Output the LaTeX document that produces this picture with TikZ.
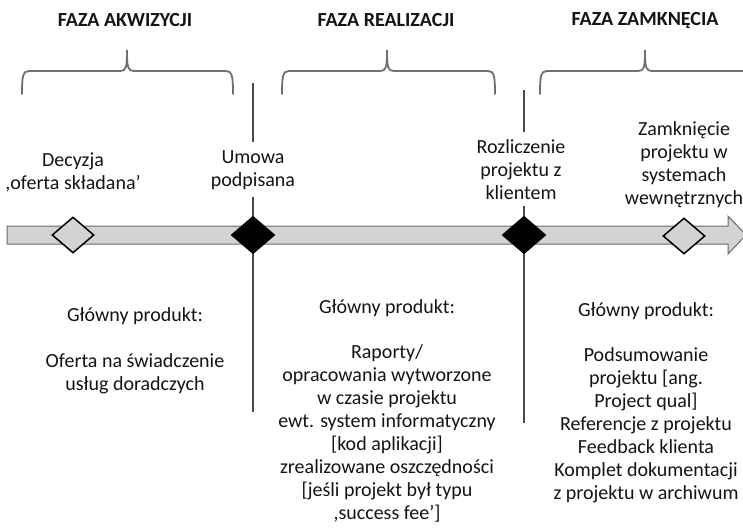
\documentclass[tikz,border=0pt]{standalone}
\usepackage{fontspec}
\setmainfont{Carlito}
\usetikzlibrary{shapes.geometric}

\definecolor{barfill}{HTML}{D3D3D3}
\definecolor{baredge}{HTML}{6A6A6A}
\definecolor{bracegray}{HTML}{707070}
\definecolor{rulegray}{HTML}{4A4A4A}
\definecolor{ink}{HTML}{141414}

\tikzset{
  phasetitle/.style={font=\bfseries\fontsize{20}{24}\selectfont, text=ink, inner sep=0pt},
  textblock/.style={font=\fontsize{20}{23}\selectfont, text=ink, align=center, inner sep=0pt},
  milestone/.style={diamond, draw=black, line width=1.5pt, inner sep=0pt,
                    minimum width=43pt, minimum height=37pt},
  openstone/.style={milestone, fill=barfill, minimum width=42pt, minimum height=36pt},
  closedstone/.style={milestone, fill=black},
  bracestroke/.style={draw=bracegray, line width=1.8pt, line cap=round},
  divider/.style={draw=rulegray, line width=1.3pt},
  timebar/.style={fill=barfill, draw=baredge, line width=1pt, line join=miter}
}

% curly brace over a phase: left end, tip, right end (x positions)
\newcommand\phasebrace[3]{%
  \draw[bracestroke] (#1,94) .. controls (#1,76) and (#1+1,71) .. (#1+7,71)
    -- (#2-7,71) .. controls (#2-1,71) and (#2,68) .. (#2,50)
    .. controls (#2,68) and (#2+1,71) .. (#2+7,71)
    -- (#3-7,71) .. controls (#3-1,71) and (#3,76) .. (#3,94);}

\begin{document}
\begin{tikzpicture}[x=1pt,y=-1pt]
  \clip (0,0) rectangle (743,527);
  \fill[white] (0,0) rectangle (743,527);

  % phase titles
  \node[phasetitle] (tAcq) at (125,20) {FAZA AKWIZYCJI};
  \node[phasetitle] (tReal) at (386,20) {FAZA REALIZACJI};
  \node[phasetitle] (tClose) at (645,21) {FAZA ZAMKNĘCIA};

  % phase braces
  \phasebrace{22}{127}{233}
  \phasebrace{282}{387}{495}
  \phasebrace{540}{645}{820}

  % phase dividers
  \coordinate (d1top) at (253,83);
  \coordinate (d1mid) at (253,142);
  \coordinate (d1low) at (253,197);
  \coordinate (d1end) at (253,412);
  \coordinate (d2top) at (524,90);
  \coordinate (d2mid) at (524,132);
  \coordinate (d2low) at (524,206);
  \coordinate (d2end) at (524,423);
  \draw[divider] (d1top) -- (d1mid);
  \draw[divider] (d1low) -- (d1end);
  \draw[divider] (d2top) -- (d2mid);
  \draw[divider] (d2low) -- (d2end);

  % time axis
  \draw[timebar] (7,226) -- (728,226) -- (728,216) -- (746,235)
    -- (728,254) -- (728,244) -- (7,244) -- cycle;

  % milestones
  \node[openstone]   (mDecision) at (73,235) {};
  \node[closedstone] (mContract) at (253,235) {};
  \node[closedstone] (mSettle)   at (524,235) {};
  \node[openstone]   (mClosed)   at (684,236) {};

  % milestone labels
  \node[textblock] (lDecision) at (73,172) {Decyzja\\,oferta składana’};
  \node[textblock] (lContract) at (253,170) {Umowa\\podpisana};
  \node[textblock] (lSettle)   at (521,170) {Rozliczenie\\projektu z\\klientem};
  \node[textblock] (lClosed)   at (684,164.5) {Zamknięcie\\projektu w\\systemach\\wewnętrznych};

  % main products of each phase
  \node[textblock] (pAcq) at (135,350.5)
    {Główny produkt:\\[23pt]Oferta na świadczenie\\usług doradczych};
  \node[textblock] (pReal) at (387,411)
    {Główny produkt:\\[22pt]Raporty/\\opracowania wytworzone\\w czasie projektu\\ewt. system informatyczny\\{[}kod aplikacji]\\zrealizowane oszczędności\\{[}jeśli projekt był typu\\,success fee’]};
  \node[textblock] (pClose) at (646,403)
    {Główny produkt:\\[22pt]Podsumowanie\\projektu [ang.\\Project qual]\\Referencje z projektu\\Feedback klienta\\Komplet dokumentacji\\z projektu w archiwum};
\end{tikzpicture}
\end{document}
